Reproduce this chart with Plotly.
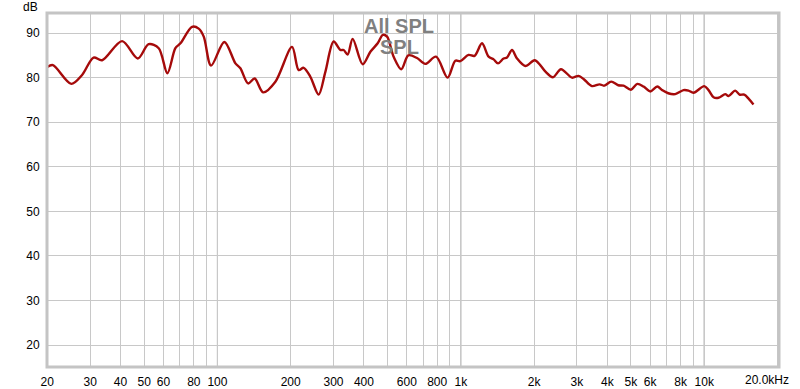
import math
import plotly.graph_objects as go

# ---- data ----
freq_hz = [20.0, 21.1, 25.1, 27.8, 31.0, 33.6, 40.6, 47.1, 52.2, 57.4, 62.3, 67.2, 70.5,
           78.7, 83.8, 87.9, 94.2, 106.8, 118.6, 124.3, 133.7, 142.3, 154.1, 173.1,
           202.6, 215.7, 226.1, 241.0, 260.6, 277.7, 300.3, 320.0, 330.2, 342.9, 359.5,
           395.2, 425.1, 455.5, 478.5, 497.9, 529.7, 569.8, 608.7, 660.7, 714.7, 791.0,
           882.8, 949.4, 995.4, 1076, 1139, 1222, 1301, 1364, 1422, 1499, 1548, 1623,
           1702, 1840, 2010, 2120, 2223, 2391, 2580, 2862, 3047, 3194, 3458, 3716, 3884,
           4150, 4434, 4663, 5000, 5307, 5636, 6003, 6414, 6723, 7114, 7601, 8222, 8619,
           9037, 10001, 10421, 10925, 11453, 12202, 12590, 13412, 13968, 14604, 15211,
           15937]
spl_db = [82.4, 82.8, 78.6, 80.6, 84.5, 83.9, 88.2, 84.3, 87.5, 86.6, 81.0, 86.6, 87.7,
          91.4, 91.0, 89.2, 82.7, 88.0, 83.2, 82.1, 78.7, 79.8, 76.7, 79.1,
          86.9, 81.7, 82.2, 80.2, 76.2, 81.3, 88.1, 86.2, 86.2, 85.2, 88.7,
          83.0, 85.8, 87.7, 89.6, 89.2, 84.7, 81.9, 85.0, 84.4, 83.1, 84.7,
          80.0, 83.8, 83.7, 85.1, 84.9, 87.7, 84.7, 84.1, 83.2, 84.3, 84.5, 86.2,
          84.3, 82.6, 83.9, 82.8, 81.4, 80.1, 81.9, 80.0, 80.4, 79.7, 78.1, 78.5, 78.2,
          79.1, 78.3, 78.2, 77.3, 78.6, 78.0, 76.9, 78.0, 77.2, 76.5, 76.3, 77.2, 77.1,
          76.6, 78.1, 77.2, 75.6, 75.5, 76.3, 75.9, 77.1, 76.2, 76.2, 75.3,
          74.0]

x_grid = [20, 30, 40, 50, 60, 70, 80, 90, 100, 200, 300, 400, 500, 600, 700, 800, 900,
          1000, 2000, 3000, 4000, 5000, 6000, 7000, 8000, 9000, 10000, 20000]
x_labels = ["20", "30", "40", "50", "60", "", "80", "", "100", "200", "300", "400", "",
            "600", "", "800", "", "1k", "2k", "3k", "4k", "5k", "6k", "", "8k", "",
            "10k", ""]
last_x_label = "20.0kHz"
last_x_value = 20000
decade_lines = [100, 1000, 10000]
y_ticks = [20, 30, 40, 50, 60, 70, 80, 90]
y_unit = "dB"
legend_names = ["All SPL", "SPL"]

FONT = "Liberation Sans, Arial, sans-serif"

fig = go.Figure()
fig.add_trace(go.Scatter(
    x=freq_hz, y=spl_db, mode="lines",
    line=dict(color="#A50A0A", width=2.4, shape="spline", smoothing=0.9),
    hoverinfo="skip", showlegend=False,
))

shapes = []
for f in decade_lines:
    shapes.append(dict(type="line", xref="x", yref="paper", x0=f, x1=f, y0=0, y1=1,
                       line=dict(color="#8a8a8a", width=1), layer="between"))
shapes.append(dict(type="rect", xref="paper", yref="paper", x0=0, x1=1, y0=0, y1=1,
                   line=dict(color="#c4c4c4", width=3), layer="above"))

annotations = [
    dict(text=y_unit, xref="paper", yref="paper", x=-0.023, y=1.0, yshift=6,
         xanchor="center", yanchor="middle", showarrow=False, borderpad=0,
         font=dict(family=FONT, size=12, color="#000")),
    dict(text=last_x_label, xref="x", yref="paper", x=math.log10(last_x_value), y=0,
         xshift=-10, yshift=-13, xanchor="center", yanchor="middle", showarrow=False,
         borderpad=0, font=dict(family=FONT, size=12, color="#000")),
    dict(text="<b>%s</b>" % legend_names[0], xref="paper", yref="paper", x=0.481, y=0.963,
         xanchor="center", yanchor="middle", showarrow=False,
         font=dict(family=FONT, size=20, color="#808080")),
    dict(text="<b>%s</b>" % legend_names[1], xref="paper", yref="paper", x=0.482, y=0.905,
         xanchor="center", yanchor="middle", showarrow=False,
         font=dict(family=FONT, size=20, color="#808080")),
]

fig.update_layout(
    width=800, height=389,
    margin=dict(l=47, r=21, t=13, b=22, autoexpand=False),
    paper_bgcolor="white", plot_bgcolor="white",
    font=dict(family=FONT, size=12, color="#000"),
    shapes=shapes, annotations=annotations,
    xaxis=dict(type="log", range=[math.log10(19.95), math.log10(20290)],
               tickvals=x_grid, ticktext=x_labels, showgrid=True, automargin=False,
               gridcolor="#c8c8c8", gridwidth=1, zeroline=False, showline=False,
               ticks="outside", ticklen=4, tickcolor="rgba(0,0,0,0)",
               tickfont=dict(family=FONT, size=12, color="#000")),
    yaxis=dict(range=[15.1, 94.5], tickvals=y_ticks, showgrid=True, automargin=False,
               gridcolor="#c8c8c8", gridwidth=1, zeroline=False, showline=False,
               ticks="outside", ticklen=4, tickcolor="rgba(0,0,0,0)",
               tickfont=dict(family=FONT, size=12, color="#000")),
)

fig.write_html("out.html", config={"displayModeBar": False},
               post_script="document.body.style.margin='0px';document.body.style.overflow='hidden';")
